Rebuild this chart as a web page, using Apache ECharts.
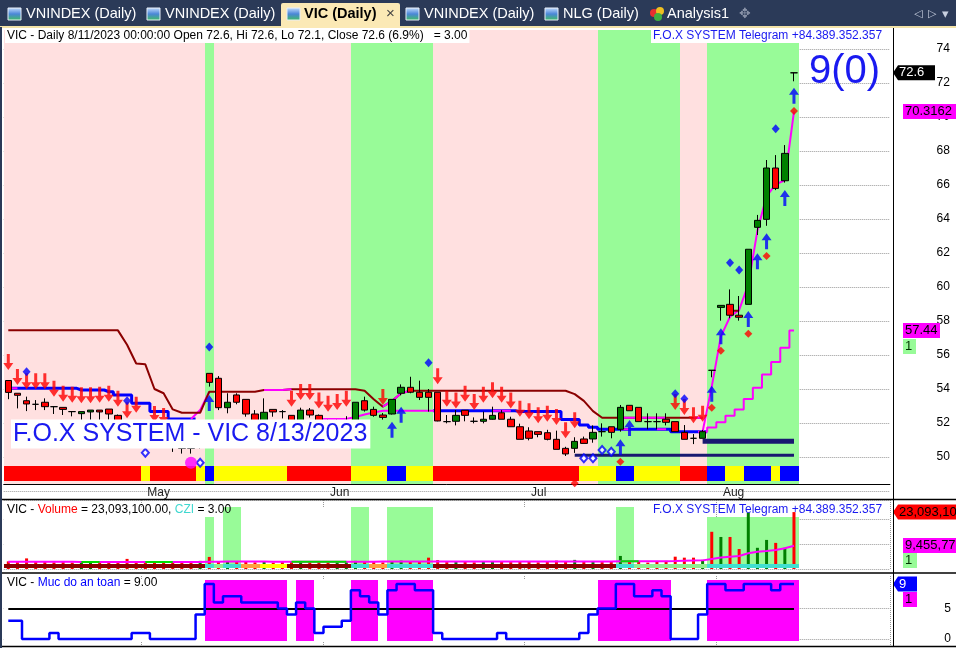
<!DOCTYPE html>
<html><head><meta charset="utf-8">
<script src="https://cdn.jsdelivr.net/npm/echarts@6/dist/echarts.min.js"></script>
<style>html,body{margin:0;padding:0;background:#fff;}#c{width:956px;height:648px;}</style>
</head><body><div id="c"></div>
<script>
// ---------------- DATA ----------------
const dates = [
'2023-04-10','2023-04-11','2023-04-12','2023-04-13','2023-04-14','2023-04-17','2023-04-18','2023-04-19','2023-04-20','2023-04-21','2023-04-24','2023-04-25','2023-04-26','2023-04-27','2023-04-28',
'2023-05-04','2023-05-05','2023-05-08','2023-05-09','2023-05-10','2023-05-11','2023-05-12','2023-05-15','2023-05-16','2023-05-17','2023-05-18','2023-05-19','2023-05-22','2023-05-23','2023-05-24','2023-05-25','2023-05-26','2023-05-29','2023-05-30','2023-05-31',
'2023-06-01','2023-06-02','2023-06-05','2023-06-06','2023-06-07','2023-06-08','2023-06-09','2023-06-12','2023-06-13','2023-06-14','2023-06-15','2023-06-16','2023-06-19','2023-06-20','2023-06-21','2023-06-22','2023-06-23','2023-06-26','2023-06-27','2023-06-28','2023-06-29','2023-06-30',
'2023-07-03','2023-07-04','2023-07-05','2023-07-06','2023-07-07','2023-07-10','2023-07-11','2023-07-12','2023-07-13','2023-07-14','2023-07-17','2023-07-18','2023-07-19','2023-07-20','2023-07-21','2023-07-24','2023-07-25','2023-07-26','2023-07-27','2023-07-28','2023-07-31',
'2023-08-01','2023-08-02','2023-08-03','2023-08-04','2023-08-07','2023-08-08','2023-08-09','2023-08-10','2023-08-11'];
const blankBars = 10;
const monthNames = {'05':'May','06':'Jun','07':'Jul','08':'Aug'};

const opens = [54.5,53.75,53.31,53.1,53.22,52.96,52.92,52.67,52.55,52.65,
52.76,52.82,52.45,51.9,51.2,51.0,50.9,50.8,50.8,50.7,
50.5,50.6,54.92,54.63,52.9,53.65,53.39,52.53,52.0,52.8,
52.67,52.45,52.1,52.76,52.45,52.0,51.9,52.0,51.9,53.31,
52.8,52.47,52.53,53.75,54.1,53.81,53.81,53.81,52.08,52.1,
52.75,52.1,52.1,52.22,52.6,52.22,51.78,51.53,51.49,51.43,
51.04,50.51,50.51,51.06,51.06,51.49,51.78,51.63,53.04,52.92,
52.08,52.08,52.22,52.08,51.45,51.1,51.1,55.1,58.8,58.98,
58.34,58.98,63.51,63.98,67.0,66.25,72.6];
const highs = [54.5,53.75,53.55,53.35,53.45,52.96,52.92,52.67,52.67,52.76,
52.76,52.82,52.5,52.0,51.8,51.5,51.3,51.2,51.1,51.0,
50.9,51.6,54.92,54.76,53.75,53.75,53.39,52.76,53.45,52.8,
52.76,52.45,52.9,52.88,52.5,52.2,52.2,52.4,53.22,53.55,
52.96,52.59,53.39,54.27,54.72,54.49,54.0,53.81,52.47,52.76,
52.75,52.33,52.67,52.96,52.76,52.37,51.96,51.75,51.49,51.6,
51.55,50.6,51.16,51.2,51.86,51.98,51.78,53.06,53.04,52.92,
52.57,52.57,52.57,52.08,51.88,51.35,51.59,55.1,58.92,59.86,
59.47,62.22,64.24,67.47,67.76,68.35,72.6];
const lows = [53.4,52.86,52.7,52.76,52.76,52.53,52.47,52.39,52.18,52.18,
52.18,52.2,51.7,50.55,50.8,50.7,50.6,50.6,50.3,50.2,
50.2,50.5,54.14,52.76,52.57,53.1,52.37,51.9,51.9,52.37,
52.27,51.8,52.0,52.32,51.8,51.7,51.7,51.8,51.8,52.67,
52.37,52.2,52.5,53.63,53.75,53.35,52.67,52.1,51.98,51.86,
52.1,51.98,51.98,52.2,52.22,51.78,51.04,50.98,51.16,50.98,
50.45,50.06,50.24,50.8,50.84,51.2,51.1,51.49,52.72,52.08,
51.63,51.63,51.86,51.49,51.04,50.76,51.1,54.69,58.02,58.16,
58.02,58.98,63.06,63.6,65.7,66.14,72.1];
const closes = [53.8,53.63,53.12,53.1,52.96,52.96,52.8,52.67,52.67,52.76,
52.65,52.53,51.9,51.2,51.0,50.9,50.7,50.8,50.6,50.5,
50.5,51.4,54.39,52.9,53.22,53.22,52.53,52.0,52.63,52.65,
52.67,52.0,52.76,52.47,52.0,51.9,52.0,52.1,53.22,52.76,
52.45,52.33,53.39,54.1,53.81,53.51,53.51,52.12,52.08,52.45,
52.45,52.1,52.22,52.45,52.22,51.78,51.04,51.1,51.33,51.04,
50.45,50.18,50.92,50.8,51.45,51.49,51.45,52.92,52.72,52.08,
52.08,52.08,52.04,51.49,51.04,51.1,51.49,55.1,58.92,58.34,
58.22,62.22,63.92,67.0,65.8,67.86,72.6];

// upper resistance line (dark red)
const resistLine = [57.45,57.45,57.45,57.45,57.45,57.45,57.45,57.45,57.45,57.45,
57.45,57.45,57.45,56.6,55.5,55.45,54.0,53.75,52.8,52.6,
52.6,52.6,53.84,53.84,53.84,53.84,53.84,53.84,53.94,53.94,
53.94,53.98,53.98,53.98,53.98,53.98,53.98,53.98,53.98,53.9,
53.4,52.96,53.3,53.75,53.9,53.9,53.9,53.9,53.9,53.9,
53.9,53.9,53.9,53.9,53.9,53.9,53.9,53.9,53.9,53.9,
53.9,53.9,53.7,53.3,52.7,52.31,52.31,52.31,52.31,52.31,
52.31,52.31,52.31,52.31,52.31,52.31,52.31,null,null,58.6,
58.6,null,null,null,null,null,null];
// magenta pieces of the upper line
const resistMagenta = [null,null,null,null,null,null,null,null,null,null,
null,null,null,null,null,null,null,null,null,null,
null,null,null,null,null,null,null,null,53.94,53.94,
53.94,53.98,null,null,null,null,null,null,null,null,
null,52.96,53.3,53.75,53.9,null,null,null,null,null,
null,null,null,null,null,null,null,null,null,null,
null,null,null,null,null,null,null,52.31,52.31,52.31,
52.31,52.31,52.31,null,null,52.31,52.31,null,null,null,
null,null,null,null,null,null,null];
// lower support line (blue, stair)
const supportLine = [54.04,54.04,54.04,54.04,54.04,54.04,54.04,54.04,53.94,53.94,
53.94,53.84,53.65,53.65,53.16,53.16,52.67,52.67,52.24,52.24,
52.24,null,null,null,null,null,null,null,null,null,
null,null,null,null,null,null,null,null,null,null,
null,null,null,null,null,null,null,52.72,52.72,52.72,
52.72,52.72,52.72,52.72,52.72,52.72,52.67,52.67,52.67,52.67,
52.67,52.2,52.2,51.88,51.75,51.63,51.63,51.63,51.63,51.63,
51.63,51.63,51.63,51.49,51.49,51.49,51.49,null,null,null,
null,null,null,null,null,null,null];
// magenta pieces of the lower line and the final run-up
const supportMagenta = [54.04,54.04,null,null,null,null,null,null,null,null,
null,null,null,null,null,null,null,null,null,null,
52.24,52.76,53.84,null,null,null,null,null,null,null,
null,null,null,null,52.24,52.24,52.24,52.24,52.35,52.5,
52.62,52.72,52.72,52.72,52.72,52.72,52.72,52.72,null,null,
null,null,null,52.72,52.72,52.72,null,null,null,null,
null,null,null,null,null,null,null,51.63,51.63,null,
null,51.63,51.63,null,null,null,51.49,54.14,57.1,58.25,
58.65,60.14,63.32,65.35,66.04,66.28,70.3162];
// trailing stair (magenta) at the end
const trailStair = [76,51.49, 77,51.73, 78,52.04, 79,52.43, 80,52.8, 81,53.41, 82,54.08, 83,54.86, 84,55.59, 85,56.43, 86,57.44];
const navyUpper = {from:76, to:86, level:50.92};
const navyLower = {from:62, to:86, level:50.1};

const sellArrows = [[0,55.12],[1,54.24],[2,53.98],[3,53.98],[4,53.98],[5,53.55],[6,53.25],[7,53.19],[8,53.16],[9,53.16],[10,53.19],[11,53.25],[12,52.96],[13,52.28],[14,52.61],[16,52.06],[17,51.94],
[31,52.96],[32,53.35],[33,53.35],[34,52.86],[35,52.66],[36,52.76],[37,52.96],[41,53.06],
[47,54.28],[48,52.96],[49,52.86],[50,53.25],[51,52.76],[52,53.19],[53,53.45],[54,53.19],[55,52.86],[56,52.37],[57,52.22],[58,51.98],[59,52.08],[60,51.88],[61,51.1],[62,51.69],
[73,52.76],[74,52.47],[75,51.98],[76,52.08]];
const buyArrows = [[22,53.65],[42,52.08],[43,52.96],[67,51.04],[68,52.18],[77,54.19],[78,57.57],[81,58.59],[82,61.98],[83,63.16],[85,65.71],[86,71.72]];
const blueDiamonds = [[2,55.02],[13,53.31],[22,56.47],[46,55.55],[73,53.72],[74,53.43],[79,61.43],[80,61.0],[84,69.31]];
const redDots = [[62,48.45],[67,49.72],[77,52.9],[78,56.25],[81,57.25],[83,61.82],[86,70.35]];
const hollowDiamonds = [[15,50.25],[21,49.66],[63,49.92],[64,49.92],[65,50.41],[66,50.31]];
const bigDot = [[20,49.66]];

const greenMain = [[22,22],[38,46],[65,73],[77,86]];
const ribbon = [[0,14,'R'],[15,15,'Y'],[16,20,'R'],[21,21,'Y'],[22,22,'B'],[23,30,'Y'],[31,37,'R'],[38,41,'Y'],[42,43,'B'],[44,46,'Y'],[47,62,'R'],[63,66,'Y'],[67,68,'B'],[69,73,'Y'],[74,76,'R'],[77,78,'B'],[79,80,'Y'],[81,83,'B'],[84,84,'Y'],[85,86,'B']];

// volume (millions)
const volumes = [3.1,2.8,4.3,2.9,3.0,2.7,2.8,2.6,2.9,2.7,
3.0,2.8,3.1,4.1,3.0,2.9,3.2,2.8,3.0,2.7,
3.1,3.3,4.9,3.2,2.9,2.8,3.1,2.7,3.0,2.6,
2.8,2.9,3.1,2.8,3.0,2.7,2.9,2.8,3.3,3.0,
2.8,2.7,3.1,3.4,3.0,3.2,4.6,3.6,2.8,2.9,
3.0,2.7,2.9,3.0,3.1,2.8,3.2,2.9,2.7,3.1,
3.4,3.0,3.7,2.9,3.1,2.8,3.0,5.3,3.3,2.9,
2.6,3.0,3.3,5.0,4.6,4.6,3.7,15.1,13.0,13.0,
8.1,22.9,8.6,11.8,10.6,8.6,23.0931];
const volumeMA = [2.9,2.9,2.9,2.9,2.9,2.9,2.9,2.9,2.85,2.85,
2.85,2.85,2.85,2.8,2.8,2.8,2.8,2.8,2.8,2.8,
2.8,2.85,2.9,2.95,3.0,3.0,3.0,3.0,3.0,2.95,
2.95,2.95,2.9,2.9,2.9,2.9,2.9,2.9,2.95,2.95,
2.95,3.0,3.0,3.0,3.0,3.0,3.05,3.05,3.0,3.0,
3.0,3.0,3.0,3.0,3.0,3.0,3.0,3.0,3.0,3.0,
3.0,3.05,3.05,3.05,3.05,3.05,3.05,3.1,3.1,3.1,
3.1,3.15,3.15,3.2,3.3,3.4,3.5,4.1,4.7,5.0,
5.3,6.4,7.0,7.3,7.7,8.4,9.455773];
const volumeMAGreen = [[8,10],[15,18],[31,37],[67,69]];
const volGreenTall = [[24,25],[38,39],[42,46],[67,68]];
const volGreenShort = [[22,22],[77,86]];
const volRibbon = [[0,21,'R'],[22,22,'C'],[23,23,'L'],[24,25,'C'],[26,27,'O'],[28,30,'Y'],[31,37,'R'],[38,39,'C'],[40,41,'O'],[42,46,'C'],[47,66,'R'],[67,68,'C'],[69,76,'L'],[77,86,'C']];

// safety level (Muc do an toan)
const safety = [3,3,0,0,0,1,0,0,0,0,
0,0,0,0,1,1,0,0,0,0,
0,4,9,6,7,7,6,6,6,6,
5,4,6,5,1,2,2,3,8,7,
6,4,8,9,9,8,8,1,0,0,
0,0,0,0,1,0,0,0,0,0,
0,0,0,1,4,5,5,9,9,7,
7,8,7,0,0,0,4,9,9,8,
8,9,9,9,8,9,9];
const safetyThreshold = 5;
const safetyZones = [[22,30],[32,33],[38,40],[42,46],[65,72],[77,86]];
const priceTicks = [50,52,54,56,58,60,62,64,66,68,70,72,74];

// ---------------- BUILD ----------------
const N = dates.length;
const cats = dates.slice();
for (let k = 1; k <= blankBars; k++) cats.push('blank' + k);
const monthStart = new Set();
for (let i = 1; i < N; i++) if (dates[i].slice(5,7) !== dates[i-1].slice(5,7)) monthStart.add(i);
const isMonth = (i) => monthStart.has(i);

function inRanges(i, ranges){ return ranges.some(r => i >= r[0] && i <= r[1]); }
function codeFromRanges(i, ranges){ for (const r of ranges) if (i>=r[0] && i<=r[1]) return r[2]; return null; }

const PANEL_TOP = 75.118, PANEL_BOT = 48.412;      // price extent of main panel
const RIB_TOP = 49.47, RIB_BOT = 48.59;
const ribbonColors = {R:'#FF0000', Y:'#FFFF00', B:'#0000FF'};
const volRibbonColors = {R:'#8B0000', C:'#40E0D0', L:'#90EE90', O:'#FFA040', Y:'#FFFF00'};

function rectAt(api, i, lo, hi, fill){
  const p0 = api.coord([i, lo]), p1 = api.coord([i, hi]);
  const w = api.size([1, 0])[0];
  const x0 = Math.round(p0[0] - w/2), x1 = Math.round(p0[0] + w/2);
  const y0 = Math.round(p1[1]), y1 = Math.round(p0[1]);
  return {type:'rect', shape:{x:x0, y:y0, width:x1-x0, height:y1-y0}, style:{fill:fill}};
}

const idxData = []; for (let i = 0; i < N; i++) idxData.push([i, 0]);

const ohlc = opens.map((o,i) => [o, closes[i], lows[i], highs[i]]);
const stairData = new Array(N).fill(null);
for (let k = 0; k < trailStair.length; k += 2) stairData[trailStair[k]] = trailStair[k+1];
function levelLine(spec){ const a = new Array(N).fill(null); for (let i = spec.from; i <= spec.to; i++) a[i] = spec.level; return a; }
const volColored = volumes.map((v,i) => ({value:v, itemStyle:{color: closes[i] > opens[i] ? '#008000' : '#FF0000'}}));
const volMAGreenData = volumeMA.map((v,i) => inRanges(i, volumeMAGreen) ? v : null);

const upArrow = 'path://M5,0 L10,7 L6.5,7 L6.5,16 L3.5,16 L3.5,7 L0,7 Z';
const downArrow = 'path://M3.5,0 L6.5,0 L6.5,9 L10,9 L5,16 L0,9 L3.5,9 Z';

const FONT = '"Liberation Sans", Arial, sans-serif';
const GRID_LEFT = 3.73, GRID_RIGHT = 66.1;

const chart = echarts.init(document.getElementById('c'), null, {renderer:'canvas'});

const option = {
  animation: false,
  backgroundColor: '#ffffff',
  textStyle: {fontFamily: FONT},
  grid: [
    {left: GRID_LEFT, right: GRID_RIGHT, top: 15, bottom: 157, outerBoundsMode: 'none'},
    {left: GRID_LEFT, right: GRID_RIGHT, top: 500, bottom: 79, outerBoundsMode: 'none'},
    {left: GRID_LEFT, right: GRID_RIGHT, top: 576, bottom: 2, outerBoundsMode: 'none'}
  ],
  xAxis: [
    {type:'category', gridIndex:0, data:cats, offset:-7,
     axisLine:{lineStyle:{color:'#000', width:1}},
     axisTick:{alignWithLabel:true, interval:(i)=>isMonth(i), length:5, lineStyle:{color:'#000'}},
     axisLabel:{interval:(i)=>isMonth(i), formatter:(v)=>monthNames[v.slice(5,7)]||'', align:'left', margin:3, fontSize:12, color:'#222', padding:[0,0,0,2], fontFamily:FONT},
     splitLine:{show:false}},
    {type:'category', gridIndex:1, data:cats,
     axisLine:{show:false}, axisTick:{show:false}, axisLabel:{show:false},
     splitLine:{show:true, interval:(i)=>isMonth(i), lineStyle:{type:'dotted', color:'#999'}}},
    {type:'category', gridIndex:2, data:cats,
     axisLine:{show:false}, axisTick:{show:false}, axisLabel:{show:false},
     splitLine:{show:true, interval:(i)=>isMonth(i), lineStyle:{type:'dotted', color:'#999'}}}
  ],
  yAxis: [
    {type:'value', gridIndex:0, position:'right', min:48, max:76, interval:2,
     axisLine:{show:false}, axisTick:{show:false},
     axisLabel:{formatter:(v)=> priceTicks.indexOf(v) >= 0 ? String(v) : '', align:'right', margin:60, fontSize:12, color:'#000', fontFamily:FONT},
     splitLine:{show:true, lineStyle:{type:'dotted', color:'#999'}}},
    {type:'value', gridIndex:1, position:'right', min:0, max:28, interval:10,
     axisLine:{show:false}, axisTick:{show:false}, axisLabel:{show:false},
     splitLine:{show:true, lineStyle:{type:'dotted', color:'#999'}}},
    {type:'value', gridIndex:2, position:'right', min:-1.148, max:10.33,
     axisLine:{show:false},
     axisTick:{show:false, customValues:[0,5]},
     axisLabel:{customValues:[0,5], align:'right', margin:61, fontSize:12, color:'#000', fontFamily:FONT},
     splitLine:{show:true, lineStyle:{type:'dotted', color:'#999'}}}
  ],
  series: [
    // main background bands
    {type:'custom', xAxisIndex:0, yAxisIndex:0, z:1, silent:true, data:idxData,
     renderItem:(p, api)=>{ const i = api.value(0); return rectAt(api, i, PANEL_BOT, PANEL_TOP, inRanges(i, greenMain) ? '#98FB98' : '#FFE0E0'); }},
    // bottom colour ribbon
    {type:'custom', xAxisIndex:0, yAxisIndex:0, z:2, silent:true, data:idxData,
     renderItem:(p, api)=>{ const i = api.value(0); return rectAt(api, i, RIB_BOT, RIB_TOP, ribbonColors[codeFromRanges(i, ribbon)]); }},
    {type:'line', xAxisIndex:0, yAxisIndex:0, z:3, data:levelLine(navyLower), symbol:'none', lineStyle:{color:'#191970', width:3}},
    {type:'line', xAxisIndex:0, yAxisIndex:0, z:3, data:levelLine(navyUpper), symbol:'none', lineStyle:{color:'#191970', width:5}},
    {type:'line', xAxisIndex:0, yAxisIndex:0, z:3, data:supportLine, step:'middle', symbol:'none', lineStyle:{color:'#0000FF', width:3}},
    {type:'line', xAxisIndex:0, yAxisIndex:0, z:3, data:stairData, step:'middle', symbol:'none', lineStyle:{color:'#FF00FF', width:2}},
    {type:'line', xAxisIndex:0, yAxisIndex:0, z:3, data:supportMagenta, symbol:'none', lineStyle:{color:'#FF00FF', width:2}},
    {type:'line', xAxisIndex:0, yAxisIndex:0, z:3, data:resistLine, symbol:'none', lineStyle:{color:'#8B0000', width:2}},
    {type:'line', xAxisIndex:0, yAxisIndex:0, z:3, data:resistMagenta, symbol:'none', lineStyle:{color:'#FF00FF', width:2}},
    {type:'candlestick', xAxisIndex:0, yAxisIndex:0, z:4, data:ohlc, barWidth:7,
     itemStyle:{color:'#008000', color0:'#FF0000', borderColor:'#000', borderColor0:'#000', borderColorDoji:'#000', borderWidth:1}},
    {type:'scatter', xAxisIndex:0, yAxisIndex:0, z:5, data:sellArrows, symbol:downArrow, symbolSize:[10,16], symbolOffset:[0,'-50%'], itemStyle:{color:'#FF0000'}},
    {type:'scatter', xAxisIndex:0, yAxisIndex:0, z:5, data:buyArrows, symbol:upArrow, symbolSize:[10,16], symbolOffset:[0,'50%'], itemStyle:{color:'#0000FF'}},
    {type:'scatter', xAxisIndex:0, yAxisIndex:0, z:5, data:blueDiamonds, symbol:'diamond', symbolSize:[8,9], itemStyle:{color:'#0000FF'}},
    {type:'scatter', xAxisIndex:0, yAxisIndex:0, z:5, data:redDots, symbol:'diamond', symbolSize:[8,8], itemStyle:{color:'#FF0000'}},
    {type:'scatter', xAxisIndex:0, yAxisIndex:0, z:5, data:hollowDiamonds, symbol:'emptyDiamond', symbolSize:[7,8], itemStyle:{color:'#0000FF', borderWidth:1}},
    {type:'scatter', xAxisIndex:0, yAxisIndex:0, z:5, data:bigDot, symbol:'circle', symbolSize:12, itemStyle:{color:'#FF00FF'}},

    // volume panel
    {type:'custom', xAxisIndex:1, yAxisIndex:1, z:1, silent:true, data:idxData,
     renderItem:(p, api)=>{ const i = api.value(0);
       if (inRanges(i, volGreenTall)) return rectAt(api, i, 2.0, 25.2, '#98FB98');
       if (inRanges(i, volGreenShort)) return rectAt(api, i, 2.0, 21.1, '#98FB98');
       return rectAt(api, i, 2.0, 25.2, '#FFFFFF'); }},
    {type:'bar', xAxisIndex:1, yAxisIndex:1, z:2, data:volColored, barWidth:3},
    {type:'custom', xAxisIndex:1, yAxisIndex:1, z:3, silent:true, data:idxData,
     renderItem:(p, api)=>{ const i = api.value(0); return rectAt(api, i, 0.4, 2.0, volRibbonColors[codeFromRanges(i, volRibbon)]); }},
    {type:'line', xAxisIndex:1, yAxisIndex:1, z:4, data:volumeMA, symbol:'none', lineStyle:{color:'#FF00FF', width:2}},
    {type:'line', xAxisIndex:1, yAxisIndex:1, z:4, data:volMAGreenData, symbol:'none', lineStyle:{color:'#00DD00', width:2}},

    // safety panel
    {type:'custom', xAxisIndex:2, yAxisIndex:2, z:1, silent:true, data:idxData,
     renderItem:(p, api)=>{ const i = api.value(0); return rectAt(api, i, -0.33, 9.67, inRanges(i, safetyZones) ? '#FF00FF' : '#FFFFFF'); }},
    {type:'line', xAxisIndex:2, yAxisIndex:2, z:3, data:safety, step:'middle', symbol:'none', lineStyle:{color:'#0000FF', width:2.5},
     markLine:{silent:true, symbol:'none', label:{show:false}, z:2,
       lineStyle:{color:'#000', width:2, type:'solid'},
       data:[[{coord:[dates[0], safetyThreshold]}, {coord:[dates[N-1], safetyThreshold]}]]}}
  ]
};
chart.setOption(option);

// ------------- overlay texts / flags -------------
const py = (v) => chart.convertToPixel({yAxisIndex:0}, v);
const vy = (v) => chart.convertToPixel({yAxisIndex:1}, v);
const sy = (v) => chart.convertToPixel({yAxisIndex:2}, v);
const lastClose = closes[N-1];
const lastSupport = supportMagenta[N-1];
const lastStair = stairData[N-1];
const lastVol = volumes[N-1];
const lastVolMA = volumeMA[N-1];
const lastSafety = safety[N-1];
const fmtInt = (m) => Math.round(m*1e6).toLocaleString('en-US');

function flagArrow(y, text, bg, fg, right){
  return [
    {type:'polygon', z:60, shape:{points:[[893,y],[898,y-7.5],[right,y-7.5],[right,y+7.5],[898,y+7.5]]}, style:{fill:bg}},
    {type:'text', z:61, x:899, y:y, style:{text:text, fill:fg, font:'13px '+FONT, verticalAlign:'middle'}}
  ];
}
function boxLabel(y, text, bg, fg, w){
  return [
    {type:'rect', z:60, shape:{x:903, y:Math.round(y-7.5), width:w, height:15}, style:{fill:bg}},
    {type:'text', z:61, x:905, y:y, style:{text:text, fill:fg, font:'13px '+FONT, verticalAlign:'middle'}}
  ];
}
function tabIcon(x){
  return {type:'rect', z:101, shape:{x:x, y:8, width:13, height:12}, style:{fill:new echarts.graphic.LinearGradient(0,0,0,1,[{offset:0,color:'#c8e0ff'},{offset:0.5,color:'#4a86d8'},{offset:1,color:'#3fbf5f'}]), stroke:'#e8eef8', lineWidth:1}};
}
const tabFont = '14.5px '+FONT;
const gfx = [
  // tab bar
  {type:'rect', z:100, shape:{x:0, y:0, width:956, height:27}, style:{fill:'#2B3A58'}},
  {type:'rect', z:100, shape:{x:0, y:26, width:956, height:2}, style:{fill:'#F3E3A8'}},
  {type:'rect', z:100, shape:{x:281, y:3, width:119, height:25, r:[2,2,0,0]}, style:{fill:'#FBE9B5'}},
  tabIcon(8),  {type:'text', z:101, x:26, y:14, style:{text:'VNINDEX (Daily)', fill:'#FFFFFF', font:tabFont, verticalAlign:'middle'}},
  tabIcon(147),{type:'text', z:101, x:165, y:14, style:{text:'VNINDEX (Daily)', fill:'#FFFFFF', font:tabFont, verticalAlign:'middle'}},
  tabIcon(287),{type:'text', z:101, x:304, y:14, style:{text:'VIC (Daily)', fill:'#000000', font:'bold '+tabFont, verticalAlign:'middle'}},
  {type:'text', z:101, x:386, y:14, style:{text:'×', fill:'#444', font:'15px '+FONT, verticalAlign:'middle'}},
  tabIcon(406),{type:'text', z:101, x:424, y:14, style:{text:'VNINDEX (Daily)', fill:'#FFFFFF', font:tabFont, verticalAlign:'middle'}},
  tabIcon(545),{type:'text', z:101, x:563, y:14, style:{text:'NLG (Daily)', fill:'#FFFFFF', font:tabFont, verticalAlign:'middle'}},
  {type:'circle', z:101, shape:{cx:654, cy:13, r:4}, style:{fill:'#E83030'}},
  {type:'circle', z:101, shape:{cx:660, cy:11, r:4}, style:{fill:'#F0C020'}},
  {type:'circle', z:101, shape:{cx:658, cy:17, r:4}, style:{fill:'#40B040'}},
  {type:'text', z:101, x:667, y:14, style:{text:'Analysis1', fill:'#FFFFFF', font:tabFont, verticalAlign:'middle'}},
  {type:'text', z:101, x:739, y:14, style:{text:'✥', fill:'#8a93a8', font:'14px "DejaVu Sans"', verticalAlign:'middle'}},
  {type:'text', z:101, x:914, y:14, style:{text:'◁', fill:'#c8d0e0', font:'11px "DejaVu Sans"', verticalAlign:'middle'}},
  {type:'text', z:101, x:928, y:14, style:{text:'▷', fill:'#c8d0e0', font:'11px "DejaVu Sans"', verticalAlign:'middle'}},
  {type:'text', z:101, x:942, y:15, style:{text:'▾', fill:'#c8d0e0', font:'13px "DejaVu Sans"', verticalAlign:'middle'}},
  // frames / separators
  {type:'rect', z:100, shape:{x:0, y:27, width:2, height:621}, style:{fill:'#2B3A58'}},
  {type:'line', z:90, shape:{x1:893.5, y1:28, x2:893.5, y2:646}, style:{stroke:'#000', lineWidth:1}},
  {type:'line', z:90, shape:{x1:2, y1:499.5, x2:956, y2:499.5}, style:{stroke:'#000', lineWidth:1.5}},
  {type:'line', z:90, shape:{x1:2, y1:573, x2:956, y2:573}, style:{stroke:'#000', lineWidth:1.5}},
  {type:'line', z:90, shape:{x1:2, y1:646.5, x2:956, y2:646.5}, style:{stroke:'#000', lineWidth:1.5}},
  // titles
  {type:'text', z:50, x:5, y:36, style:{text:'VIC - Daily 8/11/2023 00:00:00 Open 72.6, Hi 72.6, Lo 72.1, Close 72.6 (6.9%)   = 3.00', fill:'#000', font:'12px '+FONT, verticalAlign:'middle', backgroundColor:'#fff', padding:[1,2,1,2]}},
  {type:'text', z:50, x:651, y:36, style:{text:'F.O.X SYSTEM Telegram +84.389.352.357', fill:'#1A1AF0', font:'12px '+FONT, verticalAlign:'middle', backgroundColor:'#fff', padding:[1,2,1,2]}},
  {type:'text', z:50, x:7, y:510, style:{text:'{k|VIC - }{r|Volume}{k| = 23,093,100.00, }{c|CZI}{k| = 3.00}', font:'12px '+FONT, verticalAlign:'middle',
     rich:{k:{fill:'#000', font:'12px '+FONT}, r:{fill:'#FF0000', font:'12px '+FONT}, c:{fill:'#40D8D0', font:'12px '+FONT}}}},
  {type:'text', z:50, x:653, y:510, style:{text:'F.O.X SYSTEM Telegram +84.389.352.357', fill:'#1A1AF0', font:'12px '+FONT, verticalAlign:'middle'}},
  {type:'text', z:50, x:7, y:583, style:{text:'{k|VIC - }{b|Muc do an toan}{k| = 9.00}', font:'12px '+FONT, verticalAlign:'middle',
     rich:{k:{fill:'#000', font:'12px '+FONT}, b:{fill:'#0000FF', font:'12px '+FONT}}}},
  // big labels
  {type:'text', z:50, x:11, y:434, style:{text:'F.O.X SYSTEM - VIC 8/13/2023', fill:'#1A1AF0', font:'25px '+FONT, verticalAlign:'middle', backgroundColor:'#ffffff', padding:[1,3,0,2], lineHeight:28}},
  {type:'text', z:50, x:809, y:72, style:{text:'9(0)', fill:'#1A1AF0', font:'40px '+FONT, verticalAlign:'middle'}}
];
gfx.push(...flagArrow(py(lastClose), String(lastClose), '#000000', '#ffffff', 935));
gfx.push(...boxLabel(py(lastSupport), String(lastSupport), '#FF00FF', '#000', 53));
gfx.push(...boxLabel(py(lastStair), String(lastStair), '#FF00FF', '#000', 37));
gfx.push(...boxLabel(py(lastStair)+16, '1', '#98FB98', '#003300', 13));
gfx.push(...flagArrow(vy(lastVol), fmtInt(lastVol), '#FF0000', '#000', 956));
gfx.push(...boxLabel(vy(lastVolMA), fmtInt(lastVolMA), '#FF00FF', '#000', 53));
gfx.push(...boxLabel(vy(lastVolMA)+15, '1', '#98FB98', '#003300', 14));
gfx.push(...flagArrow(sy(lastSafety), String(lastSafety), '#0000FF', '#ffffff', 917));
gfx.push(...boxLabel(sy(lastSafety)+15, '1', '#FF00FF', '#000', 14));
chart.setOption({graphic: gfx});
</script></body></html>
